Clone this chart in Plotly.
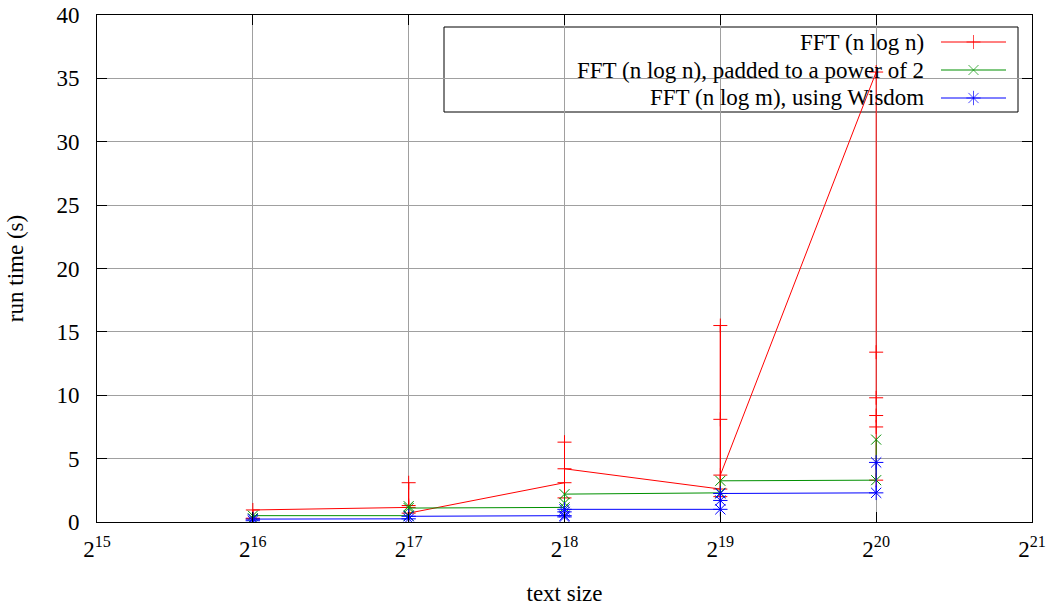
import math
import plotly.graph_objects as go

# ---- data (run time in seconds, several runs per text size) ----
sizes = [65536, 131072, 262144, 524288, 1048576]
fft_runs = [
    [0.25, 0.3, 0.95],
    [1.15, 3.1, 1.3, 0.7],
    [3.1, 1.9, 6.3, 4.2],
    [2.6, 15.5, 8.1, 2.0, 3.7],
    [35.5, 13.4, 9.8, 8.4, 7.5, 3.3],
]
padded_runs = [
    [0.3, 0.5],
    [0.5, 1.25, 1.1],
    [1.15, 1.5, 2.2],
    [2.3, 3.25],
    [3.3, 6.5],
]
wisdom_runs = [
    [0.1, 0.23],
    [0.25, 0.45],
    [0.5, 0.4, 0.8, 1.0],
    [1.0, 1.7, 2.25],
    [2.3, 4.7],
]
series_names = [
    "FFT (n log n)",
    "FFT (n log n), padded to a power of 2",
    "FFT (n log m), using Wisdom",
]
x_tick_exponents = [15, 16, 17, 18, 19, 20, 21]
y_ticks = [0, 5, 10, 15, 20, 25, 30, 35, 40]

colors = ["#ff0000", "#009000", "#0000ff"]
symbols = ["cross-thin-open", "x-thin-open", "asterisk-open"]
msizes = [10, 10, 12]
FONT = "Liberation Serif"
FS = 23


def flatten(runs):
    xs, ys = [], []
    for s, vals in zip(sizes, runs):
        for v in vals:
            xs.append(s)
            ys.append(v)
    return xs, ys


fig = go.Figure()
for runs, name, col, sym, ms in zip([fft_runs, padded_runs, wisdom_runs], series_names, colors, symbols, msizes):
    xs, ys = flatten(runs)
    fig.add_trace(go.Scatter(
        x=xs, y=ys, name=name, mode="lines+markers",
        line=dict(color=col, width=1),
        marker=dict(symbol=sym, size=ms, color=col, line=dict(width=1, color=col)),
        showlegend=False,
    ))

# ---- key (gnuplot style: text right-aligned, sample to the right) ----
W, H = 1052, 609
ML, MR, MT, MB = 97, 20, 15, 87
pw, ph = W - ML - MR, H - MT - MB


def px(xp):
    return (xp - ML) / pw


def py(yp):
    return (H - MB - yp) / ph


row_y = [42, 70, 98]
shapes = [dict(type="rect", xref="paper", yref="paper",
               x0=px(444), x1=px(1018), y0=py(112), y1=py(27),
               fillcolor="white", line=dict(color="black", width=1), layer="between")]
annotations = []
for name, col, ry in zip(series_names, colors, row_y):
    shapes.append(dict(type="line", xref="paper", yref="paper",
                       x0=px(941), x1=px(1006), y0=py(ry), y1=py(ry),
                       line=dict(color=col, width=1), layer="above"))
    annotations.append(dict(text=name, xref="paper", yref="paper", x=px(926), y=py(ry),
                            xanchor="right", yanchor="middle", showarrow=False,
                            font=dict(family=FONT, size=FS, color="black")))

fig.add_trace(go.Scatter(
    x=[px(973.5)] * 3, y=[py(r) for r in row_y], mode="markers",
    marker=dict(symbol=symbols, size=msizes, color=colors, line=dict(width=1, color=colors)),
    xaxis="x2", yaxis="y2", showlegend=False, hoverinfo="skip",
))

axis_common = dict(
    showline=True, linecolor="black", linewidth=1, mirror="ticks",
    ticks="inside", ticklen=10, tickcolor="black", tickwidth=1,
    showgrid=True, gridcolor="#a0a0a0", gridwidth=1, zeroline=False,
    automargin=False,
    tickfont=dict(family=FONT, size=FS, color="black"),
)

fig.update_layout(
    width=W, height=H,
    margin=dict(l=ML, r=MR, t=MT, b=MB),
    plot_bgcolor="white", paper_bgcolor="white",
    xaxis=dict(
        type="log",
        range=[math.log10(2 ** x_tick_exponents[0]), math.log10(2 ** x_tick_exponents[-1])],
        tickvals=[2 ** e for e in x_tick_exponents],
        ticktext=[f"2<sup>{e}</sup>" for e in x_tick_exponents],
        ticklabelstandoff=6,
        title=dict(text="text size", font=dict(family=FONT, size=FS, color="black"), standoff=24),
        **axis_common,
    ),
    yaxis=dict(
        range=[y_ticks[0], y_ticks[-1]],
        tickvals=y_ticks,
        ticklabelstandoff=12,
        title=dict(text="run time (s)", font=dict(family=FONT, size=FS, color="black"), standoff=26),
        **axis_common,
    ),
    xaxis2=dict(overlaying="x", range=[0, 1], visible=False, anchor="y2", automargin=False),
    yaxis2=dict(overlaying="y", range=[0, 1], visible=False, anchor="x2", automargin=False),
    shapes=shapes,
    annotations=annotations,
    font=dict(family=FONT, size=FS, color="black"),
)

fig.write_html("out.html")
